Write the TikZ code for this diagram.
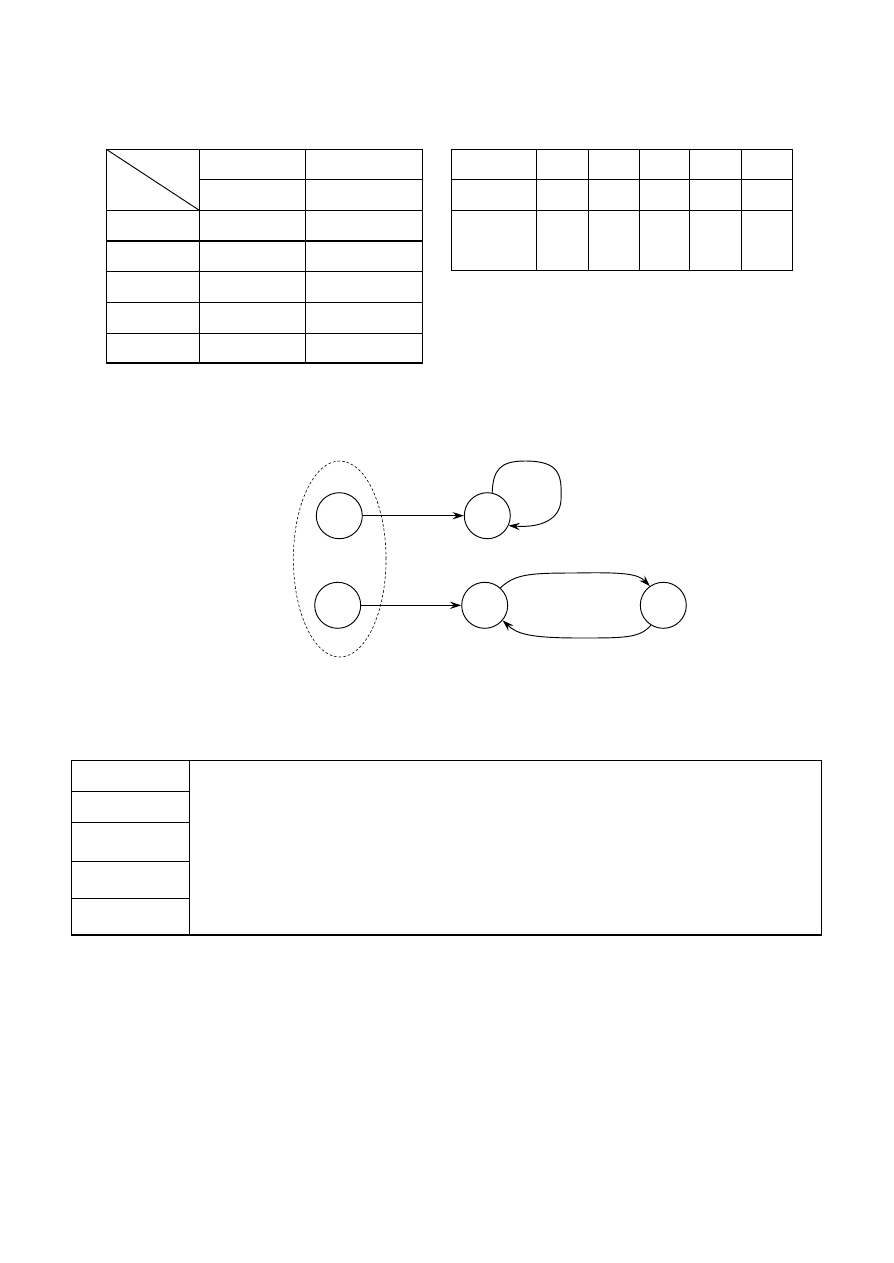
\documentclass[tikz,border=0pt]{standalone}
\usetikzlibrary{arrows.meta,shapes.geometric}
\begin{document}
\begin{tikzpicture}[x=0.75pt,y=-0.75pt,
  grid/.style={line width=0.8pt},
  state/.style={circle,draw,line width=0.7pt,minimum size=34.5pt,inner sep=0pt},
  arr/.style={line width=0.7pt,-{Stealth[length=8.5pt,width=5.5pt,inset=3pt]}},
  group/.style={draw,line width=0.45pt,dash pattern=on 2pt off 1.5pt}]
\useasboundingbox (0,0) rectangle (893,1263);
% table 1
\draw[grid] (106.3,149.3) rectangle (422.3,363);
\draw[grid] (199.3,149.3) -- (199.3,363) (305.3,149.3) -- (305.3,363);
\draw[grid] (199.3,179.3) -- (422.3,179.3);
\foreach \y in {210.3,241,271.7,302.3,333.3} \draw[grid] (106.3,\y) -- (422.3,\y);
\draw[line width=0.7pt] (106.3,149.3) -- (199.3,210.3);
% table 2
\draw[grid] (451.3,149.3) rectangle (792.3,270.7);
\foreach \x in {536.3,588.3,639.3,689.3,741.3} \draw[grid] (\x,149.3) -- (\x,270.7);
\foreach \y in {179.3,210.3} \draw[grid] (451.3,\y) -- (792.3,\y);
% diagram
\node[group,ellipse,minimum width=69.5pt,minimum height=147pt,inner sep=0pt] (E) at (339.7,559) {};
\node[state] (A1) at (339.3,515.7) {};
\node[state] (A2) at (337.7,605.3) {};
\node[state] (B1) at (487.3,515.7) {};
\node[state] (B2) at (484.7,605.3) {};
\node[state] (C) at (663.3,605.3) {};
\draw[arr] (A1) -- (B1);
\draw[arr] (A2) -- (B2);
\draw[arr] (B1.78) .. controls (493,470) and (500,461) .. (525,461)
  .. controls (560,461) and (562,475) .. (561,500)
  .. controls (560,520) and (540,528) .. (B1.-25);
\draw[arr] (B2.48) .. controls (515,574) and (530,573) .. (575,573)
  .. controls (625,572) and (638,574) .. (C.125);
\draw[arr] (C.-122) .. controls (640,638) and (625,638) .. (580,638)
  .. controls (530,638) and (517,634) .. (B2.-40);
% bottom table
\draw[grid] (71.3,760.3) rectangle (821.3,935);
\draw[grid] (189.3,760.3) -- (189.3,935);
\foreach \y in {791.7,822.3,861.3,898.3} \draw[grid] (71.3,\y) -- (189.3,\y);
\end{tikzpicture}
\end{document}
